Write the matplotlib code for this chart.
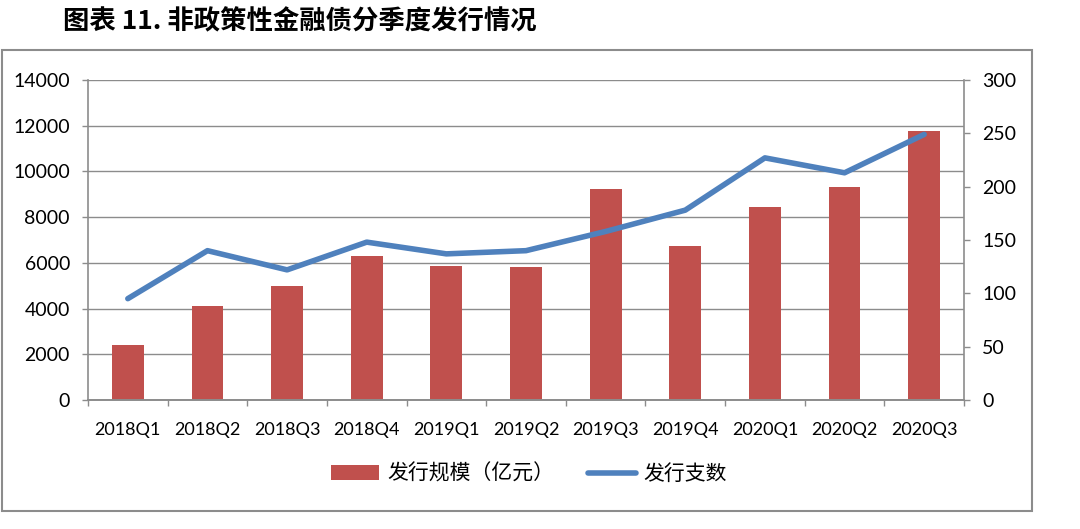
import matplotlib
matplotlib.use("Agg")
import matplotlib.pyplot as plt
from matplotlib.patches import Rectangle
import numpy as np

plt.rcParams['font.family'] = ['Lato', 'Noto Sans CJK SC', 'DejaVu Sans']

quarters = ["2018Q1", "2018Q2", "2018Q3", "2018Q4", "2019Q1", "2019Q2",
            "2019Q3", "2019Q4", "2020Q1", "2020Q2", "2020Q3"]
scale = [2400, 4100, 5000, 6300, 5850, 5800, 9230, 6740, 8440, 9330, 11780]
count = [95, 140, 122, 148, 137, 140, 158, 178, 227, 213, 249]

title = "图表 11. 非政策性金融债分季度发行情况"
bar_label = "发行规模（亿元）"
line_label = "发行支数"

grid_c = "#8c8c8c"
bar_c = "#c0504d"
line_c = "#4f81bd"

fig = plt.figure(figsize=(10.8, 5.29), dpi=100)
ax = fig.add_axes([88/1080, 1-400/529, (964-88)/1080, 320/529])
ax2 = ax.twinx()

x = np.arange(len(quarters))
bars = ax.bar(x, scale, width=0.4, color=bar_c, zorder=2, label=bar_label)
ln, = ax2.plot(x, count, color=line_c, lw=4, solid_capstyle='round', label=line_label)

ax.set_xlim(-0.5, len(quarters) - 0.5)
ax.set_ylim(0, 14000)
ax.set_yticks(range(0, 14001, 2000))
ax2.set_ylim(0, 300)
ax2.set_yticks(range(0, 301, 50))

ax.yaxis.grid(True, color=grid_c, lw=1)
ax.set_axisbelow(True)

ax.set_xticks(x)
ax.set_xticklabels(quarters)
ax.set_xticks(np.arange(-0.5, len(quarters)), minor=True)
ax.tick_params(axis='x', which='major', length=0, pad=16, labelsize=13)
ax.tick_params(axis='x', which='minor', length=4.5, color=grid_c, width=1)
ax.tick_params(axis='y', length=4.5, color=grid_c, width=1, labelsize=14, pad=8.5)
ax2.tick_params(axis='y', length=4.5, color=grid_c, width=1, labelsize=14, pad=8.5)

for a in (ax, ax2):
    a.spines['top'].set_visible(False)
    for s in ('left', 'right', 'bottom'):
        a.spines[s].set_color(grid_c)
        a.spines[s].set_linewidth(1.2)
ax.spines['right'].set_visible(False)
ax2.spines['left'].set_visible(False)

fig.legend([bars, ln], [bar_label, line_label], loc='center',
           bbox_to_anchor=(0.49, 1-474/529), ncol=2, frameon=False,
           prop={'family': ['Noto Sans CJK SC'], 'size': 15},
           handlelength=2.3, columnspacing=1.6, handletextpad=0.4)

fig.patches.append(Rectangle((2/1080, 1-511/529), 1030/1080, 461/529,
                             transform=fig.transFigure, fill=False,
                             edgecolor="#8c8c8c", lw=1.5))

fig.text(63/1080, 1-22/529, title, fontsize=19, fontweight='bold',
         family=['Noto Sans CJK SC'], va='center', ha='left')

fig.savefig("out.png", dpi=100)
